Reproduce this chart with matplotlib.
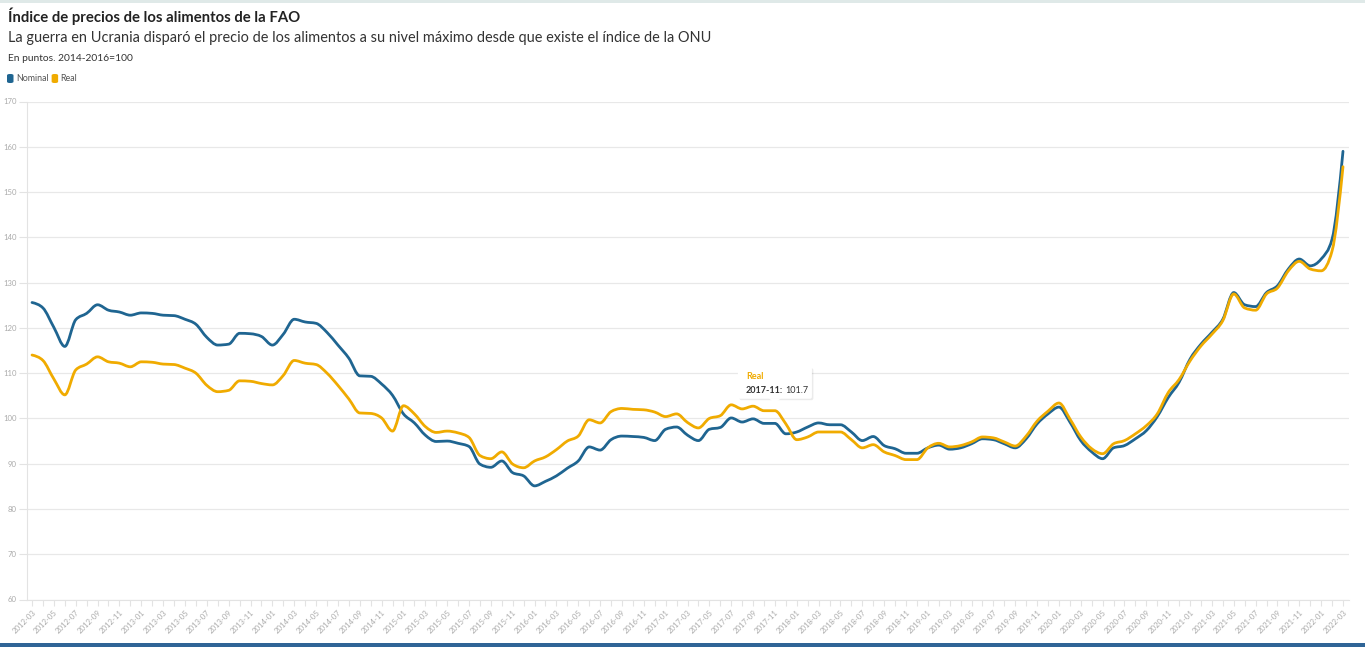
import numpy as np
import pandas as pd
import matplotlib
matplotlib.use("Agg")
import matplotlib.pyplot as plt
from matplotlib.path import Path
from matplotlib.patches import PathPatch, Rectangle, FancyBboxPatch, Polygon

# ---------------- data ----------------
months = list(pd.date_range("2012-03-01", "2022-03-01", freq="MS").strftime("%Y-%m"))

nominal = [125.6, 124.4, 120.1, 115.9, 121.8, 123.2, 125.1, 123.9, 123.5, 122.8,
           123.3, 123.2, 122.8, 122.7, 121.9, 120.8, 117.9, 116.2, 116.4, 118.8,
           118.7, 118.1, 116.2, 118.6, 121.9, 121.3, 121.0, 119.0, 116.2, 113.3,
           109.4, 109.3, 107.6, 105.1, 101.0, 99.0, 96.3, 94.9, 95.0, 94.5,
           93.8, 89.9, 89.2, 90.6, 88.0, 87.3, 85.1, 86.1, 87.3, 89.0,
           90.6, 93.7, 93.0, 95.3, 96.1, 96.0, 95.8, 95.1, 97.6, 98.1,
           96.3, 95.1, 97.6, 98.0, 100.1, 99.2, 99.9, 98.9, 98.9, 96.6,
           97.0, 98.1, 99.0, 98.6, 98.6, 97.0, 95.1, 96.0, 94.0, 93.3,
           92.3, 92.3, 93.5, 94.1, 93.2, 93.5, 94.4, 95.5, 95.3, 94.4,
           93.5, 95.5, 98.8, 101.0, 102.5, 99.2, 95.1, 92.6, 91.1, 93.5,
           94.0, 95.5, 97.3, 100.4, 104.6, 108.0, 113.1, 116.4, 119.0, 121.9,
           127.8, 125.1, 124.7, 127.8, 129.3, 133.0, 135.2, 133.7, 135.2, 139.6,
           159.0]

real = [114.0, 112.8, 108.7, 105.2, 110.7, 112.0, 113.6, 112.5, 112.2, 111.4,
        112.5, 112.4, 112.0, 111.9, 111.1, 110.0, 107.3, 105.9, 106.2, 108.3,
        108.2, 107.7, 107.4, 109.5, 112.8, 112.2, 111.9, 110.0, 107.3, 104.3,
        101.2, 101.1, 100.1, 97.2, 102.8, 101.0, 98.2, 96.9, 97.2, 96.8,
        95.8, 91.8, 91.1, 92.6, 89.9, 89.1, 90.6, 91.5, 93.1, 95.0,
        96.1, 99.7, 99.0, 101.5, 102.2, 102.0, 101.9, 101.4, 100.4, 101.0,
        99.1, 97.9, 100.0, 100.6, 103.0, 102.1, 102.7, 101.7, 101.7, 98.8,
        95.3, 95.9, 97.0, 97.0, 97.0, 95.3, 93.5, 94.2, 92.6, 91.8,
        90.9, 90.9, 93.5, 94.5, 93.7, 94.0, 94.8, 95.9, 95.7, 94.8,
        93.9, 96.1, 99.4, 101.6, 103.4, 99.9, 95.9, 93.3, 92.2, 94.4,
        95.1, 96.6, 98.4, 101.0, 105.7, 108.6, 112.7, 116.0, 118.6, 121.6,
        127.5, 124.4, 123.9, 127.5, 128.8, 132.6, 134.7, 133.0, 132.6, 137.0,
        155.6]

series_names = ["Nominal", "Real"]
colors = ["#1f6591", "#f0ab00"]
yticks = list(range(60, 171, 10))

title = "Índice de precios de los alimentos de la FAO"
subtitle = "La guerra en Ucrania disparó el precio de los alimentos a su nivel máximo desde que existe el índice de la ONU"
note = "En puntos. 2014-2016=100"

tip_index = months.index("2017-11")

# ---------------- helpers ----------------
def monotone_path(x, y):
    """Monotone cubic curve through the data, expressed as Bezier segments."""
    x = np.asarray(x, float)
    y = np.asarray(y, float)
    n = len(x)
    h = np.diff(x)
    s = np.diff(y) / h
    m = np.zeros(n)
    for k in range(1, n - 1):
        s0, s1 = s[k - 1], s[k]
        p = (s0 * h[k] + s1 * h[k - 1]) / (h[k - 1] + h[k])
        m[k] = (np.sign(s0) + np.sign(s1)) * min(abs(s0), abs(s1), 0.5 * abs(p))
    m[0] = (3 * s[0] - m[1]) / 2
    m[-1] = (3 * s[-1] - m[-2]) / 2
    verts = [(x[0], y[0])]
    codes = [Path.MOVETO]
    for k in range(n - 1):
        d = h[k] / 3
        verts += [(x[k] + d, y[k] + m[k] * d),
                  (x[k + 1] - d, y[k + 1] - m[k + 1] * d),
                  (x[k + 1], y[k + 1])]
        codes += [Path.CURVE4] * 3
    return Path(verts, codes)

# ---------------- figure ----------------
plt.rcParams["font.family"] = ["Lato", "DejaVu Sans"]
W, H = 1365, 647
fig = plt.figure(figsize=(W / 100, H / 100), dpi=100)
fig.patch.set_facecolor("white")

ax = fig.add_axes([27 / W, 1 - 599.5 / H, (1349 - 27) / W, (599.5 - 101.5) / H])
x = np.arange(len(months))
ax.set_xlim(-0.46, len(months) - 1 + 0.55)
ax.set_ylim(60, 170)

for vals, col in zip([nominal, real], colors):
    patch = PathPatch(monotone_path(x, vals), facecolor="none", edgecolor=col,
                      lw=2.0, capstyle="round", joinstyle="round", zorder=3)
    ax.add_patch(patch)

# axes styling
for side in ["top", "right"]:
    ax.spines[side].set_visible(False)
ax.spines["left"].set_color("#e3e3e3")
ax.spines["bottom"].set_color("#e3e3e3")
ax.set_yticks(yticks)
ax.set_yticklabels([str(v) for v in yticks], color="#aaaaaa", fontsize=5.6)
ax.tick_params(axis="y", length=6, color="#e3e3e3", pad=1.5)
ax.grid(axis="y", color="#e8e8e8", lw=0.9)
ax.set_axisbelow(True)

ax.set_xticks(x)
ax.set_xticklabels([m if i % 2 == 0 else "" for i, m in enumerate(months)],
                   rotation=45, ha="right", va="top", rotation_mode="anchor",
                   color="#aaaaaa", fontsize=5.6)
ax.tick_params(axis="x", length=4.5, color="#e3e3e3", pad=2)

# ---------------- texts ----------------
fig.text(8 / W, 1 - 22 / H, title, fontsize=10.7, fontweight="bold", color="#222222")
fig.text(8 / W, 1 - 42 / H, subtitle, fontsize=10.45, color="#333333")
fig.text(8 / W, 1 - 61 / H, note, fontsize=7.4, color="#333333")

# legend
lx = 7
for name, col in zip(series_names, colors):
    fig.patches.append(FancyBboxPatch((lx / W, 1 - 83 / H), 6.5 / W, 9 / H,
                                      boxstyle="round,pad=0,rounding_size=0.002",
                                      transform=fig.transFigure, facecolor=col,
                                      edgecolor="none"))
    t = fig.text((lx + 9) / W, 1 - 78.5 / H, name, fontsize=6.4, color="#555555",
                 va="center")
    fig.canvas.draw()
    bb = t.get_window_extent()
    lx = bb.x1 + 3

# ---------------- tooltip ----------------
fig.canvas.draw()
px, py = ax.transData.transform((x[tip_index], real[tip_index]))
tip_y = py + 7
bw, bh = 74, 32
bx0 = px - 37
by0 = tip_y + 5
shadow = FancyBboxPatch((bx0 + 1.5, by0 - 1.5), bw, bh, boxstyle="round,pad=0,rounding_size=2",
                        transform=None, facecolor="#000000", alpha=0.08, edgecolor="none", zorder=9)
box = FancyBboxPatch((bx0, by0), bw, bh, boxstyle="round,pad=0,rounding_size=2",
                     transform=None, facecolor="white", edgecolor="none", zorder=10)
tri = Polygon([(px - 6, by0 + 0.5), (px + 6, by0 + 0.5), (px, tip_y)], closed=True,
              transform=None, facecolor="white", edgecolor="none", zorder=10)
fig.patches.extend([shadow, box, tri])
t1 = fig.text((bx0 + 8) / W, (by0 + bh - 12) / H, series_names[1], fontsize=6.5,
              fontweight="bold", color=colors[1], va="baseline", zorder=11)
t2 = fig.text((bx0 + 8) / W, (by0 + 6) / H, months[tip_index] + ":", fontsize=6.5,
              fontweight="bold", color="#333333", va="baseline", zorder=11)
fig.canvas.draw()
b2 = t2.get_window_extent()
fig.text((b2.x1 + 2.5) / W, (by0 + 6) / H, f"{real[tip_index]:.1f}", fontsize=6.5,
         color="#333333", va="baseline", zorder=11)

# screenshot edges
fig.patches.append(Rectangle((0, 1 - 3 / H), 1, 3 / H, transform=fig.transFigure,
                             facecolor="#dfe9e8", edgecolor="none"))
fig.patches.append(Rectangle((0, 0), 1, 4 / H, transform=fig.transFigure,
                             facecolor="#2f6496", edgecolor="none"))

fig.savefig("out.png", dpi=100, facecolor="white")
